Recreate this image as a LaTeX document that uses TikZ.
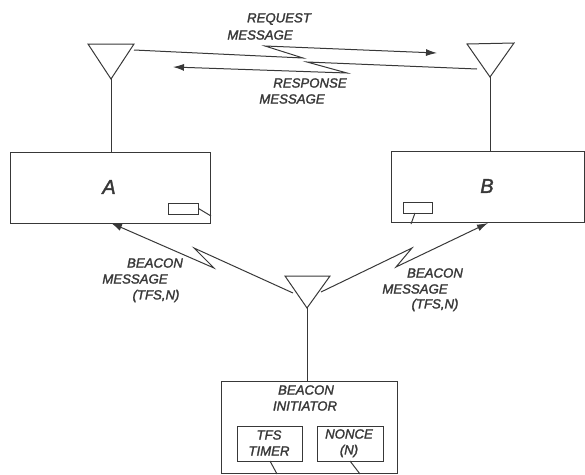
\documentclass[tikz,border=0pt]{standalone}
\usepackage{fontspec}
\setmainfont{Liberation Sans}
\newfontfamily\labfont[ItalicFeatures={FakeBold=1.8}]{Liberation Sans}
\usetikzlibrary{arrows.meta}
\definecolor{ink}{gray}{0.22}
\tikzset{
  x=1pt,y=-1pt,
  ln/.style={draw=ink,line width=1pt,line join=miter},
  box/.style={ln,inner sep=0pt,rectangle},
  lab/.style={text=ink,inner sep=0pt,font=\labfont\fontsize{13.2}{15}\selectfont\itshape},
  big/.style={text=ink,inner sep=0pt,font=\labfont\fontsize{20}{22}\selectfont\itshape},
  link/.style={ln,-{Latex[length=11pt,width=7pt]}},
}
\begin{document}
\begin{tikzpicture}
\useasboundingbox (0,0) rectangle (585,474);
% boxes
\node[box,minimum width=200pt,minimum height=71pt] (A) at (110,187.5) {};
\node[box,minimum width=193pt,minimum height=71pt] (B) at (487.5,186.5) {};
\node[box,minimum width=176pt,minimum height=92pt] (I) at (309,427) {};
\node[box,minimum width=30pt,minimum height=11pt] (as) at (183,208.5) {};
\node[box,minimum width=29pt,minimum height=11pt] (bs) at (417.5,207.5) {};
\node[box,minimum width=65pt,minimum height=35pt] (T) at (269.5,443.5) {};
\node[box,minimum width=66pt,minimum height=35pt] (Q) at (350,443.5) {};
% antennas
\coordinate (a1) at (88,44); \coordinate (a2) at (134,44); \coordinate (a3) at (111,79);
\coordinate (b1) at (467,44); \coordinate (b2) at (514,43); \coordinate (b3) at (490,77);
\coordinate (c1) at (285,276); \coordinate (c2) at (330,276); \coordinate (c3) at (307,308);
\draw[ln] (a1) -- (a2) -- (a3) -- cycle;
\draw[ln] (b1) -- (b2) -- (b3) -- cycle;
\draw[ln] (c1) -- (c2) -- (c3) -- cycle;
\draw[ln] (a3) -- (a3 |- A.north);
\draw[ln] (b3) -- (b3 |- B.north);
\draw[ln] (c3) -- (c3 |- I.north);
% small leads
\coordinate (as2) at (211,216); \coordinate (bs2) at (411,224);
\coordinate (t2) at (277,474); \coordinate (q2) at (360,474);
\draw[ln] (as.east) -- (as2);
\draw[ln] (415,213) coordinate (bs1) -- (bs2);
\draw[ln] (270,461) coordinate (t1) -- (t2);
\draw[ln] (350,461) coordinate (q1) -- (q2);
% lightning links
\coordinate (r0) at (134,50); \coordinate (r1) at (303,58); \coordinate (r2) at (265,46); \coordinate (r3) at (437,53);
\coordinate (s0) at (477,69); \coordinate (s1) at (307,62); \coordinate (s2) at (347,73); \coordinate (s3) at (173,67);
\coordinate (l0) at (293,293); \coordinate (l1) at (194,248); \coordinate (l2) at (214,268); \coordinate (l3) at (111,223);
\coordinate (m0) at (321,292); \coordinate (m1) at (412,248); \coordinate (m2) at (396,267); \coordinate (m3) at (488,223);
\draw[link] (r0) -- (r1) -- (r2) -- (r3);
\draw[link] (s0) -- (s1) -- (s2) -- (s3);
\draw[link] (l0) -- (l1) -- (l2) -- (l3);
\draw[link] (m0) -- (m1) -- (m2) -- (m3);
% labels
\node[lab] (t01) at (279,19) {REQUEST};
\node[lab] (t02) at (260,35) {MESSAGE};
\node[lab] (t03) at (310,83) {RESPONSE};
\node[lab] (t04) at (292,99) {MESSAGE};
\node[big] (tA) at (109,187) {A};
\node[big] (tB) at (487,186) {B};
\node[lab] (t05) at (155,263) {BEACON};
\node[lab] (t06) at (135,279) {MESSAGE};
\node[lab] (t07) at (156,296) {(TFS,N)};
\node[lab] (t08) at (435,273) {BEACON};
\node[lab] (t09) at (415,289) {MESSAGE};
\node[lab] (t10) at (435,305) {(TFS,N)};
\node[lab] (t11) at (306,390) {BEACON};
\node[lab] (t12) at (305,406) {INITIATOR};
\node[lab] (t13) at (269,435) {TFS};
\node[lab] (t14) at (269,451) {TIMER};
\node[lab] (t15) at (349,434) {NONCE};
\node[lab] (t16) at (349,451) {(N)};
\end{tikzpicture}
\end{document}
